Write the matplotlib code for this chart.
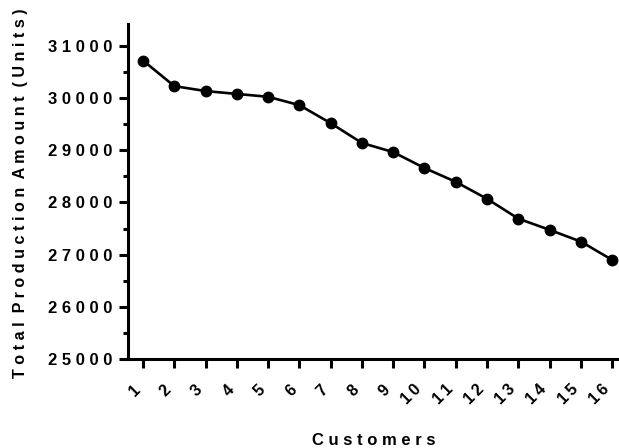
import numpy as np
import matplotlib.pyplot as plt
from matplotlib.ticker import MultipleLocator

plt.rcParams['font.family'] = ['Liberation Sans', 'DejaVu Sans']
plt.rcParams['font.weight'] = 'bold'
plt.rcParams['axes.labelweight'] = 'bold'

# production totals per customer count
customers = list(range(1, 17))
production = [30720, 30230, 30135, 30080, 30025, 29865, 29520, 29140,
              28965, 28660, 28395, 28070, 27690, 27475, 27250, 26900]
y_ticks = [25000, 26000, 27000, 28000, 29000, 30000, 31000]


def spaced(s, gap=' '):
    # wide letter spacing, words get a double gap
    return (gap * 2).join(gap.join(w) for w in s.split(' '))


fig = plt.figure(figsize=(6.19, 4.48), dpi=100)
ax = fig.add_axes([128 / 619, 1 - 359 / 448, 1 - 128 / 619, (359 - 24) / 448])

ax.plot(customers, production, '-o', color='black', lw=1.9, ms=7.5)

ax.set_xlim(0.52, 16.22)
ax.set_ylim(25000, 31420)

ax.spines['top'].set_visible(False)
ax.spines['right'].set_visible(False)
for s in ['left', 'bottom']:
    ax.spines[s].set_linewidth(2.2)

ax.set_xticks(customers)
ax.set_xticklabels([spaced(str(c), '\u2009') for c in customers],
                   rotation=45, ha='right', fontsize=11.5)
ax.set_yticks(y_ticks)
ax.set_yticklabels([spaced(str(v)) for v in y_ticks], fontsize=12)
ax.yaxis.set_minor_locator(MultipleLocator(500))
ax.tick_params(axis='both', which='major', width=2.2, length=6.5, direction='out')
ax.tick_params(axis='x', pad=10)
ax.tick_params(axis='y', pad=5)
ax.tick_params(axis='y', which='minor', width=2.2, length=3.5)

ax.set_xlabel(spaced('Customers'), fontsize=12, labelpad=18)
ax.set_ylabel(spaced('Total Production Amount (Units)'), fontsize=11.6)
ax.yaxis.set_label_coords(-0.203, 0.494)

plt.savefig('out.png', dpi=100)
